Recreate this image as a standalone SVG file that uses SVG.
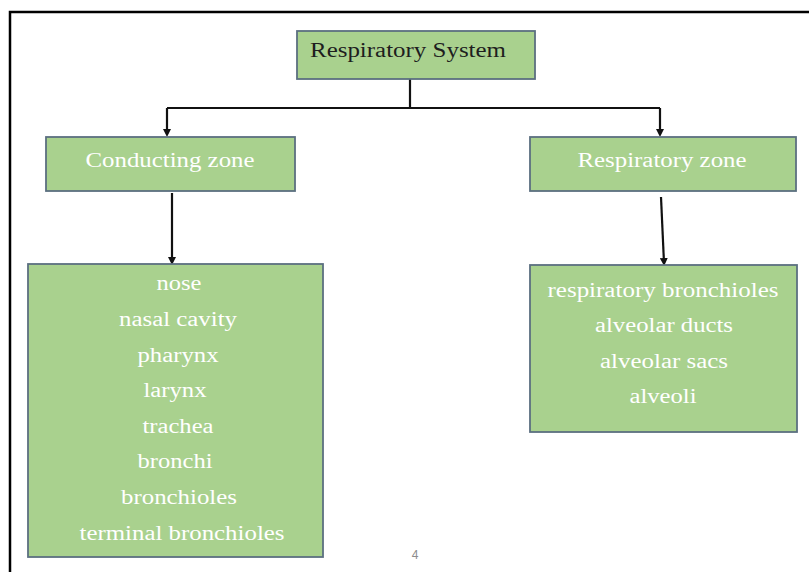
<svg xmlns="http://www.w3.org/2000/svg" width="809" height="572" viewBox="0 0 809 572">
<style>
.box{fill:#a9d18e;stroke:#5b6f80;stroke-width:1.8}
.t{font-family:"Liberation Serif","Times New Roman",serif;font-size:20.5px;text-anchor:middle;fill:#ffffff}
.dark{fill:#1e1e1e}
.con{fill:none;stroke:#111;stroke-width:2.2}
.pg{font-family:"Liberation Sans",Arial,sans-serif;font-size:12px;fill:#8c8c8c;text-anchor:middle}
</style>
<defs>
<marker id="ah" markerWidth="8" markerHeight="8" refX="5" refY="4" orient="auto" markerUnits="userSpaceOnUse">
<path d="M0,0 L8,4 L0,8 Z" fill="#111"/>
</marker>
</defs>
<path d="M10,572 V12 H809" fill="none" stroke="#000" stroke-width="2.5"/>
<g id="connectors">
<path class="con" d="M410,79 V108"/>
<path class="con" d="M167,108 H660"/>
<path class="con" d="M167,108 V134" marker-end="url(#ah)"/>
<path class="con" d="M660,108 V134" marker-end="url(#ah)"/>
<path class="con" d="M172,193 V262" marker-end="url(#ah)"/>
<path class="con" d="M661,197 L664,263" marker-end="url(#ah)"/>
</g>
<g id="root">
<rect class="box" x="297" y="31" width="238" height="48"/>
<text class="t dark" x="408" y="57" textLength="196" lengthAdjust="spacingAndGlyphs">Respiratory System</text>
</g>
<g id="conducting">
<rect class="box" x="46" y="137" width="249" height="54"/>
<text class="t" x="170" y="167" textLength="169" lengthAdjust="spacingAndGlyphs">Conducting zone</text>
</g>
<g id="respiratory">
<rect class="box" x="530" y="137" width="266" height="54"/>
<text class="t" x="662" y="167" textLength="169" lengthAdjust="spacingAndGlyphs">Respiratory zone</text>
</g>
<g id="conducting-list">
<rect class="box" x="28" y="264" width="295" height="293"/>
<text class="t" x="179" y="290" textLength="45" lengthAdjust="spacingAndGlyphs">nose</text>
<text class="t" x="178" y="326" textLength="118" lengthAdjust="spacingAndGlyphs">nasal cavity</text>
<text class="t" x="178" y="362" textLength="81" lengthAdjust="spacingAndGlyphs">pharynx</text>
<text class="t" x="175" y="397" textLength="63" lengthAdjust="spacingAndGlyphs">larynx</text>
<text class="t" x="178" y="433" textLength="71" lengthAdjust="spacingAndGlyphs">trachea</text>
<text class="t" x="175" y="468" textLength="75" lengthAdjust="spacingAndGlyphs">bronchi</text>
<text class="t" x="179" y="504" textLength="116" lengthAdjust="spacingAndGlyphs">bronchioles</text>
<text class="t" x="182" y="540" textLength="205" lengthAdjust="spacingAndGlyphs">terminal bronchioles</text>
</g>
<g id="respiratory-list">
<rect class="box" x="530" y="265" width="267" height="167"/>
<text class="t" x="663" y="297" textLength="231" lengthAdjust="spacingAndGlyphs">respiratory bronchioles</text>
<text class="t" x="664" y="332" textLength="138" lengthAdjust="spacingAndGlyphs">alveolar ducts</text>
<text class="t" x="664" y="368" textLength="128" lengthAdjust="spacingAndGlyphs">alveolar sacs</text>
<text class="t" x="663" y="403" textLength="67" lengthAdjust="spacingAndGlyphs">alveoli</text>
</g>
<text class="pg" x="415" y="559">4</text>
</svg>
